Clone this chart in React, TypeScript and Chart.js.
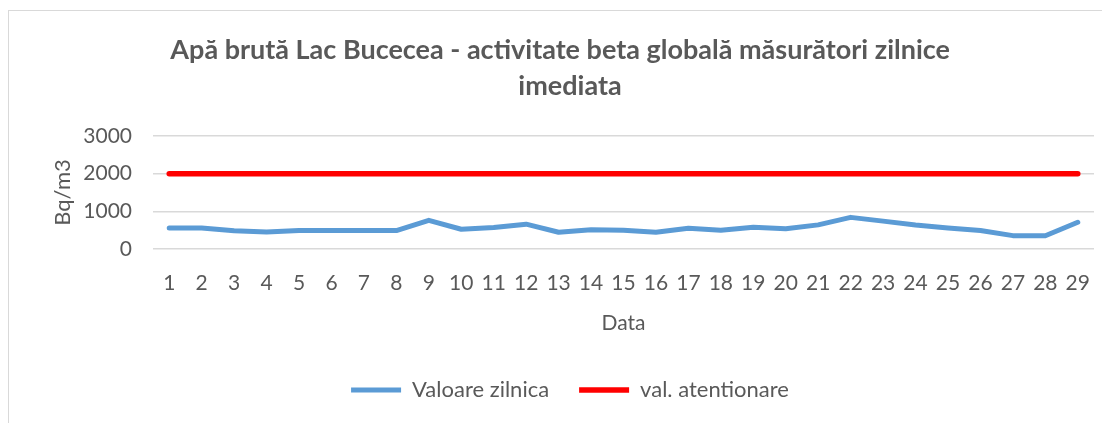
import React, { useEffect, useRef } from "react";
import { Chart, registerables } from "chart.js";

Chart.register(...registerables);

const days = ["1", "2", "3", "4", "5", "6", "7", "8", "9", "10", "11", "12", "13", "14", "15", "16", "17", "18", "19", "20", "21", "22", "23", "24", "25", "26", "27", "28", "29"];
const dailyValues = [555, 555, 485, 450, 490, 490, 490, 490, 760, 525, 570, 660, 445, 510, 495, 445, 550, 500, 580, 535, 640, 840, 740, 635, 560, 490, 355, 350, 710];
const alertValues = [2000, 2000, 2000, 2000, 2000, 2000, 2000, 2000, 2000, 2000, 2000, 2000, 2000, 2000, 2000, 2000, 2000, 2000, 2000, 2000, 2000, 2000, 2000, 2000, 2000, 2000, 2000, 2000, 2000];
const yMin = 0;
const yMax = 3000;
const yStep = 1000;
const titleLines = ["Apă brută Lac Bucecea - activitate beta globală măsurători zilnice   ", "imediata"];
const seriesNames = ["Valoare zilnica", "val. atentionare"];
const xTitle = "Data";
const yTitle = "Bq/m3";

const TEXT = "#595959";
const FONT = "Lato, 'Open Sans', sans-serif";

export default function App() {
  const ref = useRef<HTMLCanvasElement | null>(null);

  useEffect(() => {
    if (!ref.current) return;
    const chart = new Chart(ref.current, {
      type: "line",
      data: {
        labels: days,
        datasets: [
          {
            label: seriesNames[0],
            data: dailyValues,
            borderColor: "#5b9bd5",
            backgroundColor: "#5b9bd5",
            borderWidth: 5,
            borderCapStyle: "round",
            borderJoinStyle: "round",
            pointRadius: 0,
            tension: 0,
          },
          {
            label: seriesNames[1],
            data: alertValues,
            borderColor: "#ff0000",
            backgroundColor: "#ff0000",
            borderWidth: 5.5,
            borderCapStyle: "round",
            borderJoinStyle: "round",
            pointRadius: 0,
            tension: 0,
          },
        ],
      },
      options: {
        responsive: false,
        animation: false,
        layout: { padding: { left: 37, right: 16, top: 0, bottom: 12 } },
        plugins: {
          title: {
            display: true,
            text: titleLines,
            color: TEXT,
            font: { family: FONT, size: 27, weight: "bold", lineHeight: 36 / 27 },
            padding: { top: 21, bottom: 32 },
          },
          legend: {
            position: "bottom",
            labels: {
              usePointStyle: true,
              pointStyle: "line",
              pointStyleWidth: 50,
              padding: 30,
              color: TEXT,
              font: { family: FONT, size: 22 },
            },
          },
          tooltip: { enabled: false },
        },
        scales: {
          x: {
            offset: true,
            grid: { display: false },
            border: { display: false },
            ticks: {
              color: TEXT,
              font: { family: FONT, size: 21 },
              padding: 14,
              maxRotation: 0,
              autoSkip: false,
            },
            title: {
              display: true,
              text: xTitle,
              color: TEXT,
              font: { family: FONT, size: 21 },
              padding: { top: 0, bottom: 13 },
            },
            afterFit: (s: any) => {
              s.height = 100;
            },
          },
          y: {
            min: yMin,
            max: yMax,
            ticks: {
              stepSize: yStep,
              padding: 21,
              color: TEXT,
              font: { family: FONT, size: 21 },
              callback: (v: any) => String(v),
            },
            grid: { color: "#d9d9d9", lineWidth: 1.5, drawTicks: false },
            border: { display: false },
            title: {
              display: true,
              text: yTitle,
              color: TEXT,
              font: { family: FONT, size: 22 },
              padding: { top: 4, bottom: 0 },
            },
            afterFit: (s: any) => {
              s.width = 107;
            },
          },
        },
      },
    });
    return () => chart.destroy();
  }, []);

  return (
    <div
      style={{
        marginTop: 2,
        width: 1102,
        height: 413,
        boxSizing: "border-box",
        borderLeft: "1px solid #d9d9d9",
        borderTop: "1px solid #d9d9d9",
        background: "#fff",
        overflow: "hidden",
      }}
    >
      <canvas ref={ref} width={1101} height={412} style={{ display: "block" }} />
    </div>
  );
}
